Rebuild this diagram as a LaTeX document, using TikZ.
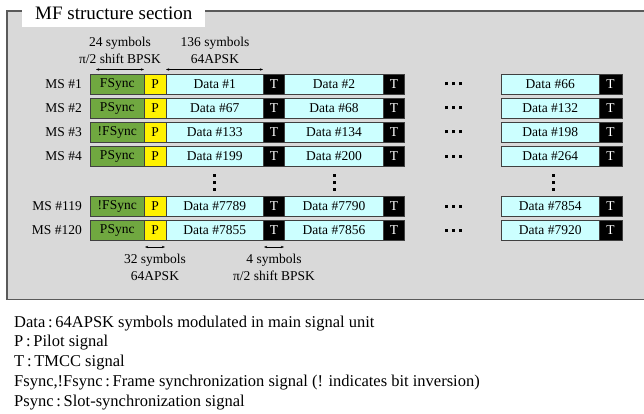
\documentclass[tikz,border=0pt]{standalone}
\usepackage{fontspec}
\setmainfont{Liberation Serif}
\usetikzlibrary{arrows.meta}
\definecolor{syncgreen}{RGB}{112,168,64}
\definecolor{datacyan}{RGB}{204,255,255}
\definecolor{panelgray}{RGB}{217,217,217}
\definecolor{panelline}{RGB}{90,90,90}
\newcommand{\hdotsbox}{\rule{3pt}{3pt}\hspace{4pt}\rule{3pt}{3pt}\hspace{4pt}\rule{3pt}{3pt}}
\newcommand{\vdotsbox}{\vbox{\offinterlineskip\hbox{\rule{3pt}{3pt}}\vskip4pt\hbox{\rule{3pt}{3pt}}\vskip4pt\hbox{\rule{3pt}{3pt}}}}
\begin{document}
\begin{tikzpicture}[x=1pt,y=-1pt,
  cell/.style={draw=black!75, line width=0.7pt, minimum height=20pt, inner sep=0pt, anchor=center, font=\fontsize{13.5}{16}\selectfont},
  syncbox/.style={cell, fill=syncgreen, minimum width=54.5pt},
  pbox/.style={cell, fill=yellow, minimum width=21.5pt},
  databox/.style={cell, fill=datacyan, minimum width=97.5pt},
  databoxw/.style={cell, fill=datacyan, minimum width=99pt},
  tbox/.style={cell, fill=black, text=white, minimum width=21pt},
  mslabel/.style={anchor=east, inner sep=0pt, font=\fontsize{13.5}{16}\selectfont},
  note/.style={align=center, inner sep=0pt, font=\fontsize{13.5}{17}\selectfont},
  dimarrow/.style={{Stealth[length=3.2pt,width=2.4pt]}-{Stealth[length=3.2pt,width=2.4pt]}, line width=0.5pt},
  legend/.style={anchor=base west, inner sep=0pt, font=\fontsize{16.5}{19}\selectfont},
  dotsnode/.style={inner sep=0pt, anchor=center}
]
\useasboundingbox (0,0) rectangle (644,414);
\clip (0,0) rectangle (644,414);
\fill[white] (0,0) rectangle (644,414);
% panel
\draw[fill=panelgray, draw=panelline, line width=1.5pt] (7,11) rectangle (660,299.5);
\fill[white] (22,0) rectangle (205,26.7);
\node[anchor=base west, inner sep=0pt, font=\fontsize{19}{22}\selectfont] (title) at (35,19.5) {MF structure section};
% rows
\foreach \r/\y/\ms/\sync/\a/\b/\c in {1/84/1/FSync/1/2/66, 2/108/2/PSync/67/68/132, 3/132/3/!FSync/133/134/198, 4/156/4/PSync/199/200/264, 5/206/119/!FSync/7789/7790/7854, 6/230/120/PSync/7855/7856/7920}{
  \node[mslabel] (ms\r) at (82,\y) {MS \#\ms};
  \node[syncbox] (s\r) at (117.25,\y) {\sync};
  \node[pbox] (p\r) at (155.25,\y) {P};
  \node[databox] (da\r) at (214.75,\y) {Data \#\a};
  \node[tbox] (ta\r) at (274,\y) {T};
  \node[databoxw] (db\r) at (334,\y) {Data \#\b};
  \node[tbox] (tb\r) at (394,\y) {T};
  \node[dotsnode] (hd\r) at (453,\y) {\hdotsbox};
  \node[databox] (dc\r) at (550.25,\y) {Data \#\c};
  \node[tbox, minimum width=23pt] (tc\r) at (610.5,\y) {T};
}
% vertical dots
\node[dotsnode] (vd1) at (214,182) {\vdotsbox};
\node[dotsnode] (vd2) at (334,182) {\vdotsbox};
\node[dotsnode] (vd3) at (553,182) {\vdotsbox};
% top annotations
\node[note] (n24) at (120,50.5) {24 symbols\\π/2 shift BPSK};
\node[note] (n136) at (215,50.5) {136 symbols\\64APSK};
\coordinate (a1l) at (96,69.5);
\coordinate (a1r) at (144,69.5);
\coordinate (a2l) at (166,69.5);
\coordinate (a2r) at (263,69.5);
\draw[dimarrow] (a1l) -- (a1r);
\draw[dimarrow] (a2l) -- (a2r);
% bottom annotations
\coordinate (b1l) at (145,247);
\coordinate (b1r) at (165,247);
\coordinate (b2l) at (264,247);
\coordinate (b2r) at (284,247);
\draw[dimarrow] (b1l) -- (b1r);
\draw[dimarrow] (b2l) -- (b2r);
\node[note] (n32) at (155,267.5) {32 symbols\\64APSK};
\node[note] (n4) at (274,267.5) {4 symbols\\π/2 shift BPSK};
% legend
\node[legend] (l1) at (14,327) {Data\,:\,64APSK symbols modulated in main signal unit};
\node[legend] (l2) at (14,346.75) {P\,:\,Pilot signal};
\node[legend] (l3) at (14,366.5) {T\,:\,TMCC signal};
\node[legend] (l4) at (14,386.25) {Fsync,!Fsync\,:\,Frame synchronization signal (! indicates bit inversion)};
\node[legend] (l5) at (14,406) {Psync\,:\,Slot-synchronization signal};
\end{tikzpicture}
\end{document}
